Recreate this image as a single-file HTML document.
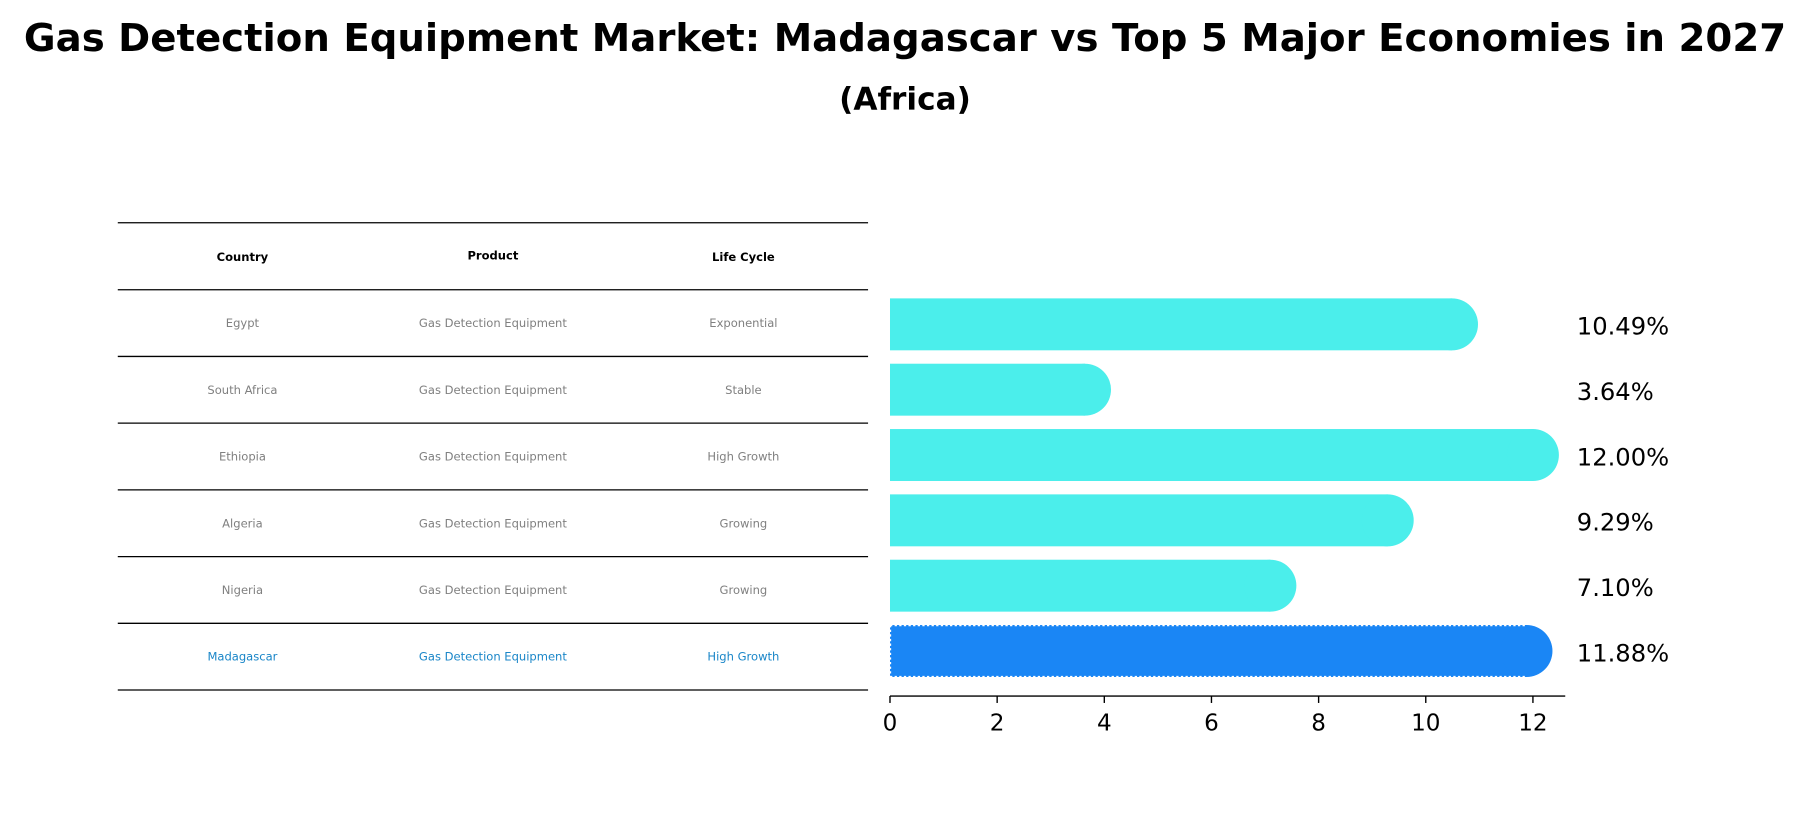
<!DOCTYPE html>
<html><head><meta charset="utf-8"><style>
body{margin:0;background:#fff;font-family:"Liberation Sans","DejaVu Sans",sans-serif;}
#c{position:relative;width:1810px;height:823px;overflow:hidden;}
</style></head><body>
<div id="c">
<svg id="s" width="1810" height="823" viewBox="0 0 1568 713">
<text x="784" y="44" text-anchor="middle" font-size="33.5" font-weight="bold" font-family="DejaVu Sans, sans-serif">Gas Detection Equipment Market: Madagascar vs Top 5 Major Economies in 2027</text>
<text x="784" y="95" text-anchor="middle" font-size="27" font-weight="bold" font-family="DejaVu Sans, sans-serif">(Africa)</text>
<g id="tbl"></g>
<g id="bars"></g>
</svg>
</div>
<script>
const countries=["Egypt","South Africa","Ethiopia","Algeria","Nigeria","Madagascar"];
const products=["Gas Detection Equipment","Gas Detection Equipment","Gas Detection Equipment","Gas Detection Equipment","Gas Detection Equipment","Gas Detection Equipment"];
const lifecycles=["Exponential","Stable","High Growth","Growing","Growing","High Growth"];
const values=[10.49,3.64,12.00,9.29,7.10,11.88];
const ticks=[0,2,4,6,8,10,12];
const NS="http://www.w3.org/2000/svg";
function mk(tag,attrs,parent,text){const e=document.createElementNS(NS,tag);for(const k in attrs)e.setAttribute(k,attrs[k]);if(text!==undefined)e.textContent=text;parent.appendChild(e);return e;}
const tbl=document.getElementById('tbl');
const rowY=i=>251+i*57.8;
const colX=[210,427,644];
const hdr=["Country","Product","Life Cycle"];
[193,251].forEach(y=>{const l=mk('line',{x1:102,x2:752,y1:y,y2:y,stroke:'#000','stroke-width':1.1},tbl);});
hdr.forEach((h,j)=>{const t=mk('text',{x:colX[j],y:j===1?225:226,'text-anchor':'middle','font-size':10,'font-weight':'bold','font-family':'DejaVu Sans, sans-serif'},tbl,h);});
countries.forEach((c,i)=>{
  const yc=rowY(i)+28.9;const col=i===5?'#1a86c8':'#808080';
  [c,products[i],lifecycles[i]].forEach((v,j)=>{const t=mk('text',{x:colX[j],y:yc+3.5,'text-anchor':'middle','font-size':10,fill:col,'font-family':'DejaVu Sans, sans-serif'},tbl,v);});
  const l=mk('line',{x1:102,x2:752,y1:rowY(i+1),y2:rowY(i+1),stroke:'#000','stroke-width':1.1},tbl);
});
const bars=document.getElementById('bars');
const x0=771,unit=(1328-771)/12;
const xs=v=>x0+v*unit;
const yc=i=>281+i*56.6;
const h=45;
values.forEach((v,i)=>{
  const col=i===5?'#1a86f5':'#4beeeb';
  const g=mk('g',{},bars);
  mk('rect',{x:x0,y:yc(i)-h/2,width:xs(v)-x0,height:h,fill:col},g);
  mk('circle',{cx:xs(v),cy:yc(i),r:h/2,fill:col},g);
  if(i===5){
    mk('line',{x1:x0,x2:xs(v),y1:yc(i)-h/2+0.5,y2:yc(i)-h/2+0.5,stroke:'#fff','stroke-width':1,'stroke-dasharray':'2,2'},g);
    mk('line',{x1:x0,x2:xs(v),y1:yc(i)+h/2-0.5,y2:yc(i)+h/2-0.5,stroke:'#fff','stroke-width':1,'stroke-dasharray':'2,2'},g);
    mk('line',{x1:x0+0.5,x2:x0+0.5,y1:yc(i)-h/2,y2:yc(i)+h/2,stroke:'#fff','stroke-width':1,'stroke-dasharray':'2,2'},g);
  }
  const t=mk('text',{x:1366,y:yc(i)+9,'font-size':21,'font-family':'DejaVu Sans, sans-serif'},bars,v.toFixed(2)+'%');
  
});
const ax=mk('line',{x1:x0,x2:1356,y1:603,y2:603,stroke:'#000','stroke-width':1.2},bars);

ticks.forEach(v=>{
  const l=mk('line',{x1:xs(v),x2:xs(v),y1:603,y2:609,stroke:'#000','stroke-width':1.2},bars);
  const t=mk('text',{x:xs(v),y:633,'text-anchor':'middle','font-size':20,'font-family':'DejaVu Sans, sans-serif'},bars,String(v));
});
</script>
</body></html>
